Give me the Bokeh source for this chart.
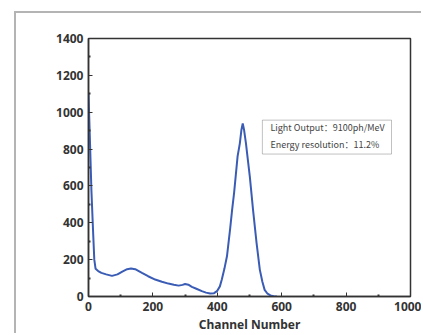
from bokeh.plotting import figure
from bokeh.models import BoxAnnotation, Label, FixedTicker, Range1d
from bokeh.embed import file_html
from bokeh.resources import INLINE

channel = [0, 4, 9, 14, 18, 22, 30, 40, 55, 73, 90, 105, 120, 132, 145, 166, 185, 207, 228, 248,
           265, 280, 292, 300, 310, 321, 335, 352, 365, 378, 390, 399, 408, 414, 422, 430, 440,
           446, 452, 457, 463, 470, 475, 479, 483, 489, 495, 501, 511, 522, 532, 540, 547, 556,
           565, 575, 585]
counts = [1100, 875, 578, 362, 200, 150, 138, 128, 120, 112, 120, 135, 148, 152, 148, 128, 110, 92,
          80, 70, 64, 59, 63, 68, 64, 52, 42, 29, 21, 16, 18, 29, 55, 92, 150, 218, 370, 470, 560,
          651, 760, 831, 905, 939, 905, 831, 740, 651, 470, 290, 146, 80, 36, 15, 6, 1, 0]
x_ticks = [0, 200, 400, 600, 800, 1000]
y_ticks = [0, 200, 400, 600, 800, 1000, 1200, 1400]
info_lines = ["Light Output：9100ph/MeV", "Energy resolution：11.2%"]

p = figure(width=407, height=322, output_backend="svg", toolbar_location=None,
           x_range=Range1d(0, 1000), y_range=Range1d(0, 1400),
           min_border_left=72, min_border_right=13, min_border_top=25, min_border_bottom=38)
p.styles = {"margin": "11px 0px 0px 14px",
            "border-left": "2px solid #b4b4b4",
            "border-top": "2px solid #b4b4b4"}
p.background_fill_color = "white"
p.border_fill_color = "white"
p.outline_line_color = "#333333"
p.outline_line_width = 1.5
p.xgrid.visible = False
p.ygrid.visible = False

p.line(channel, counts, line_color="#3a5cb5", line_width=2)

for ax, ticks in ((p.xaxis[0], x_ticks), (p.yaxis[0], y_ticks)):
    ax.ticker = FixedTicker(ticks=ticks, minor_ticks=[t + (ticks[1] - ticks[0]) / 2 for t in ticks[:-1]])
    ax.axis_line_color = "#333333"
    ax.axis_line_width = 1.5
    ax.major_tick_in = 4
    ax.major_tick_out = 0
    ax.minor_tick_in = 2
    ax.minor_tick_out = 0
    ax.major_tick_line_color = "#333333"
    ax.minor_tick_line_color = "#333333"
    ax.minor_tick_line_width = 2
    ax.major_label_text_font = "Noto Sans"
    ax.major_label_text_font_style = "bold"
    ax.major_label_text_font_size = "12px"
    ax.major_label_text_color = "#333333"

p.yaxis.major_label_standoff = 5
p.xaxis.major_label_standoff = 5
p.xaxis.axis_label = "Channel Number"
p.xaxis.axis_label_text_font = "Noto Sans"
p.xaxis.axis_label_text_font_style = "bold"
p.xaxis.axis_label_text_font_size = "12px"
p.xaxis.axis_label_text_color = "#333333"
p.xaxis.axis_label_standoff = 2

# info box
p.add_layout(BoxAnnotation(left=540, right=941, top=957, bottom=773,
                           fill_color="white", fill_alpha=1, line_color="#333333", line_width=1))
p.add_layout(Label(x=565, y=917, text=info_lines[0], text_font="Noto Sans CJK SC",
                   text_font_size="9px", text_color="#444444", text_baseline="middle"))
p.add_layout(Label(x=565, y=825, text=info_lines[1], text_font="Noto Sans CJK SC",
                   text_font_size="9px", text_color="#444444", text_baseline="middle"))

open("out.html", "w").write(file_html(p, INLINE))
